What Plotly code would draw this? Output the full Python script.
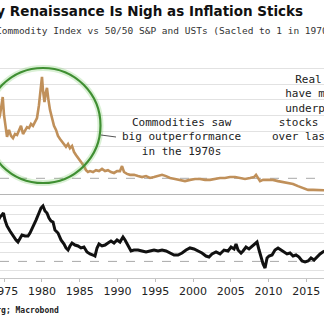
import plotly.graph_objects as go

W, H = 324, 327

# ---- data ----
comm_years = [1974.30, 1974.44, 1974.64, 1974.80, 1974.97, 1975.17, 1975.37, 1975.63, 1975.90,
              1976.16, 1976.43, 1976.70, 1976.96, 1977.22, 1977.49, 1977.75, 1978.02, 1978.28,
              1978.55, 1978.81, 1979.08, 1979.34, 1979.60, 1979.87, 1980.00, 1980.13, 1980.33,
              1980.53, 1980.66, 1980.86, 1981.06, 1981.33, 1981.59, 1981.86, 1982.12, 1982.39,
              1982.65, 1982.92, 1983.18, 1983.45, 1983.71, 1983.98, 1984.24, 1984.50, 1984.77,
              1985.03, 1985.30, 1985.56, 1985.83, 1986.09, 1986.36, 1986.76, 1987.15, 1987.55,
              1987.95, 1988.35, 1988.74, 1989.14, 1989.54, 1989.94, 1990.33, 1990.60, 1990.86,
              1991.26, 1991.66, 1992.19, 1992.72, 1993.25, 1993.78, 1994.31, 1994.84, 1995.37,
              1995.90, 1996.43, 1996.96, 1997.62, 1998.28, 1998.94, 1999.60, 2000.27, 2000.93,
              2001.59, 2002.25, 2002.92, 2003.58, 2004.24, 2004.90, 2005.57, 2006.23, 2006.89,
              2007.55, 2008.08, 2008.35, 2008.61, 2008.88, 2009.28, 2009.94, 2010.60, 2011.26,
              2011.92, 2012.59, 2013.25, 2013.91, 2014.57, 2015.24, 2015.90, 2016.56, 2017.40]
comm_vals = [2.90, 3.02, 3.33, 3.59, 3.02, 2.60, 2.32, 2.54, 2.35,
             2.28, 2.41, 2.38, 2.54, 2.67, 2.41, 2.51, 2.63, 2.60,
             2.73, 2.67, 2.82, 2.92, 3.33, 3.97, 4.23, 3.81, 3.43,
             3.75, 3.88, 3.49, 3.18, 2.92, 2.67, 2.54, 2.35, 2.25,
             2.16, 2.09, 2.00, 2.09, 1.96, 2.03, 1.84, 1.74, 1.65,
             1.58, 1.46, 1.39, 1.26, 1.20, 1.23, 1.20, 1.26, 1.23,
             1.30, 1.23, 1.26, 1.20, 1.17, 1.23, 1.23, 1.39, 1.20,
             1.14, 1.11, 1.11, 1.07, 1.04, 1.07, 1.01, 1.04, 1.07,
             1.11, 1.07, 1.01, 0.98, 0.95, 0.91, 0.95, 0.98, 0.98,
             0.95, 0.95, 0.98, 1.01, 1.01, 1.04, 1.04, 1.01, 0.98,
             1.01, 1.04, 1.11, 1.01, 0.91, 0.95, 0.95, 0.95, 0.91,
             0.88, 0.85, 0.82, 0.75, 0.69, 0.63, 0.63, 0.63, 0.62]

ratio_years = [1974.30, 1974.44, 1974.70, 1974.90, 1975.10, 1975.37, 1975.76, 1976.16, 1976.56,
               1976.82, 1977.09, 1977.35, 1977.75, 1978.15, 1978.41, 1978.81, 1979.21, 1979.60,
               1979.87, 1980.13, 1980.40, 1980.66, 1980.93, 1981.20, 1981.46, 1981.72, 1982.12,
               1982.52, 1982.92, 1983.18, 1983.45, 1983.71, 1983.98, 1984.37, 1984.77, 1985.17,
               1985.56, 1985.96, 1986.36, 1986.76, 1987.02, 1987.29, 1987.55, 1987.95, 1988.35,
               1988.74, 1989.14, 1989.54, 1989.94, 1990.33, 1990.73, 1991.00, 1991.39, 1991.79,
               1992.19, 1992.72, 1993.25, 1993.78, 1994.31, 1994.84, 1995.37, 1995.90, 1996.43,
               1996.96, 1997.49, 1998.02, 1998.55, 1999.08, 1999.60, 2000.13, 2000.66, 2001.19,
               2001.72, 2002.12, 2002.52, 2003.05, 2003.58, 2004.11, 2004.64, 2005.04, 2005.44,
               2005.70, 2005.96, 2006.36, 2006.63, 2007.02, 2007.42, 2007.82, 2008.22, 2008.48,
               2008.75, 2009.01, 2009.28, 2009.54, 2009.81, 2010.07, 2010.47, 2010.86, 2011.26,
               2011.66, 2012.06, 2012.45, 2012.85, 2013.25, 2013.65, 2014.04, 2014.44, 2014.84,
               2015.24, 2015.63, 2016.03, 2016.43, 2016.83, 2017.40]
ratio_vals = [1.45, 1.472, 1.494, 1.515, 1.44, 1.377, 1.323, 1.27, 1.228,
              1.206, 1.25, 1.281, 1.27, 1.27, 1.302, 1.366, 1.44, 1.515,
              1.568, 1.589, 1.536, 1.515, 1.462, 1.43, 1.419, 1.334, 1.302,
              1.228, 1.185, 1.143, 1.121, 1.164, 1.196, 1.174, 1.164, 1.143,
              1.153, 1.10, 1.079, 1.068, 1.057, 1.143, 1.185, 1.164, 1.174,
              1.196, 1.217, 1.196, 1.228, 1.206, 1.259, 1.228, 1.164, 1.111,
              1.121, 1.121, 1.111, 1.10, 1.111, 1.121, 1.111, 1.121, 1.111,
              1.089, 1.068, 1.068, 1.089, 1.121, 1.143, 1.132, 1.111, 1.089,
              1.057, 1.047, 1.079, 1.10, 1.079, 1.121, 1.111, 1.153, 1.132,
              1.185, 1.121, 1.089, 1.111, 1.153, 1.132, 1.164, 1.196, 1.206,
              1.121, 1.047, 0.972, 0.93, 1.036, 1.057, 1.068, 1.121, 1.143,
              1.121, 1.10, 1.079, 1.089, 1.057, 1.068, 1.047, 1.004, 0.994,
              1.004, 1.036, 1.015, 1.047, 1.079, 1.111]

tick_years = [1975, 1980, 1985, 1990, 1995, 2000, 2005, 2010, 2015]
tick_labels = [str(y) for y in tick_years]

top_grid = [1.5, 2.0, 2.5, 3.0, 3.5, 4.0, 4.5]
bot_grid = [0.9, 1.1, 1.2, 1.3, 1.4, 1.5, 1.6]

title_text = "Commodity Renaissance Is Nigh as Inflation Sticks"
subtitle_text = "Commodity Index vs 50/50 S&P and USTs (Sacled to 1 in 1970)"
note_left = "Commodities saw<br>big outperformance<br>in the 1970s"
note_right = "Real assets<br>have massively<br>underperformed<br>stocks and bonds<br>over last 40 years"
source_text = "Source: Bloomberg; Macrobond"

# ---- helpers for pixel placement ----
def px(x):
    return x / W

def py(y):
    return 1 - y / H

X_RANGE = [1974.44, 2017.35]

fig = go.Figure()
fig.add_trace(go.Scatter(x=comm_years, y=comm_vals, mode="lines",
                         line=dict(color="#c0905a", width=2.6), xaxis="x", yaxis="y",
                         showlegend=False, hoverinfo="skip"))
fig.add_trace(go.Scatter(x=ratio_years, y=ratio_vals, mode="lines",
                         line=dict(color="#111111", width=3), xaxis="x2", yaxis="y2",
                         showlegend=False, hoverinfo="skip"))

grid_c = "#e2e2e2"
fig.update_layout(
    width=W, height=H,
    margin=dict(l=0, r=0, t=0, b=0, autoexpand=False),
    paper_bgcolor="white", plot_bgcolor="white",
    xaxis=dict(domain=[0, 1], range=X_RANGE, anchor="y", showticklabels=False,
               showgrid=False, zeroline=False, showline=True, linecolor="#b5b5b5",
               linewidth=1, ticks="", automargin=False),
    yaxis=dict(domain=[py(194), py(56)], range=[0.5, 0.5 + (194 - 56) / 31.4],
               tickvals=top_grid, showticklabels=False, showgrid=True, automargin=False,
               gridcolor=grid_c, gridwidth=1, zeroline=False, showline=False, ticks=""),
    xaxis2=dict(domain=[0, 1], range=X_RANGE, anchor="y2", tickvals=tick_years,
                ticktext=tick_labels, showgrid=False, zeroline=False, showline=True,
                linecolor="#c8c8c8", linewidth=1, ticks="outside", ticklen=3,
                ticklabeloverflow="allow", automargin=False,
                tickcolor="#bdbdbd", tickfont=dict(family="DejaVu Sans", size=11, color="#222")),
    yaxis2=dict(domain=[py(278), py(194)], range=[1 - (278 - 261.4) / 94, 1 + (261.4 - 194) / 94],
                tickvals=bot_grid, showticklabels=False, showgrid=True, automargin=False,
                gridcolor=grid_c, gridwidth=1, zeroline=False, showline=False, ticks=""),
)

shapes = [
    dict(type="line", xref="paper", yref="y", x0=0, x1=1, y0=1, y1=1,
         line=dict(color="#a8a8a8", width=1, dash="dash"), layer="below"),
    dict(type="line", xref="paper", yref="y2", x0=0, x1=1, y0=1, y1=1,
         line=dict(color="#a8a8a8", width=1, dash="dash"), layer="below"),
    # glow + circle
    dict(type="circle", xref="paper", yref="paper", x0=px(-14.5), x1=px(100.5),
         y0=py(183), y1=py(68), line=dict(color="rgba(120,200,100,0.28)", width=6)),
    dict(type="circle", xref="paper", yref="paper", x0=px(-14.5), x1=px(100.5),
         y0=py(183), y1=py(68), line=dict(color="#3f8f32", width=2.2)),
    # leader line
    dict(type="line", xref="paper", yref="paper", x0=px(101), x1=px(116),
         y0=py(135), y1=py(137), line=dict(color="#555", width=1)),
]
fig.update_layout(shapes=shapes)

annotations = [
    dict(text="<b>" + title_text + "</b>", xref="paper", yref="paper", x=px(305), y=py(11),
         xanchor="right", yanchor="middle", showarrow=False,
         font=dict(family="DejaVu Sans", size=13.5, color="#111")),
    dict(text=subtitle_text, xref="paper", yref="paper", x=px(-6.3), y=py(30),
         xanchor="left", yanchor="middle", showarrow=False,
         font=dict(family="DejaVu Sans Mono", size=9.5, color="#333")),
    dict(text=note_left, xref="paper", yref="paper", x=px(181), y=py(137),
         xanchor="center", yanchor="middle", align="center", showarrow=False,
         font=dict(family="DejaVu Sans Mono", size=11, color="#222")),
    dict(text=note_right, xref="paper", yref="paper", x=px(331), y=py(107.5),
         xanchor="center", yanchor="middle", align="center", showarrow=False,
         font=dict(family="DejaVu Sans Mono", size=11, color="#222")),
    dict(text="<b>" + source_text + "</b>", xref="paper", yref="paper", x=px(61), y=py(310),
         xanchor="right", yanchor="middle", showarrow=False,
         font=dict(family="DejaVu Sans Mono", size=8, color="#222")),
]
fig.update_layout(annotations=annotations)

fig.write_html("out.html", config={"displayModeBar": False})
